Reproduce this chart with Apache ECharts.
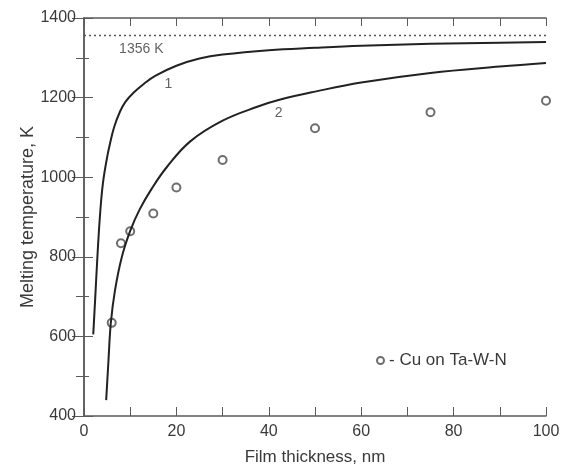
<!DOCTYPE html>
<html><head><meta charset="utf-8">
<script src="https://cdn.jsdelivr.net/npm/echarts@6/dist/echarts.min.js"></script>
<style>html,body{margin:0;padding:0;background:#fff}#c{width:562px;height:467px}</style>
</head><body><div id="c"></div>
<script>
// Curve 1 (thickness nm, melting temperature K)
const curve1X = [2.0, 2.4, 2.9, 3.5, 4.1, 5.0, 5.6, 6.5, 7.8, 9.0, 10.7, 13.0, 15.5, 20, 25, 30, 40, 50, 60, 75, 90, 100];
const curve1Y = [605, 690, 800, 910, 985, 1050, 1083, 1125, 1165, 1190, 1212, 1235, 1255, 1280, 1298, 1308, 1319, 1325, 1330, 1335, 1338, 1340];
// Curve 2
const curve2X = [4.8, 5.3, 5.8, 6.7, 8.2, 10, 12, 14.7, 17.9, 23, 30, 37.5, 42.5, 50, 60, 75, 90, 100];
const curve2Y = [440, 540, 633, 715, 800, 865, 918, 972, 1025, 1090, 1142, 1177, 1195, 1215, 1238, 1262, 1278, 1287];
// Measured points: Cu on Ta-W-N
const cuX = [6, 8, 10, 15, 20, 30, 50, 75, 100];
const cuY = [634, 834, 864, 909, 974, 1043, 1123, 1163, 1192];
// Bulk melting point
const bulkX = [0, 100];
const bulkY = [1356, 1356];
// Annotation texts and anchors (data units)
const noteText = ['1356 K', '1', '2'];
const noteX = [7.6, 17.4, 41.3];
const noteY = [1323, 1235, 1160];
const legendName = '- Cu on Ta-W-N';

const zip = (xs, ys) => xs.map((x, i) => [x, ys[i]]);
const font = 'Liberation Sans, Arial, sans-serif';
const axisCol = '#5a5a5a';
const textCol = '#3a3a3a';

const chart = echarts.init(document.getElementById('c'), null, {renderer: 'canvas'});
chart.setOption({
  animation: false,
  backgroundColor: '#fff',
  grid: {left: 84, right: 16, top: 18, bottom: 51, containLabel: false, outerBoundsMode: 'none'},
  legend: {
    data: [{name: legendName, icon: 'emptyCircle'}],
    left: 371, top: 347, itemWidth: 7, itemHeight: 7,
    textStyle: {fontFamily: font, fontSize: 17, color: textCol},
    itemStyle: {borderWidth: 1.2}
  },
  xAxis: [{
    type: 'value', position: 'bottom', min: 0, max: 100, interval: 20,
    name: 'Film thickness, nm', nameLocation: 'middle', nameGap: 33, nameMoveOverlap: false,
    nameTextStyle: {fontFamily: font, fontSize: 17, color: textCol},
    axisLine: {show: true, lineStyle: {color: axisCol, width: 1.5}},
    axisTick: {show: true, inside: true, length: 9, lineStyle: {color: axisCol, width: 1}},
    minorTick: {show: true, splitNumber: 2, length: 9, lineStyle: {color: axisCol, width: 1}},
    axisLabel: {fontFamily: font, fontSize: 16, color: textCol, margin: 8},
    splitLine: {show: false}
  }, {
    type: 'value', position: 'top', min: 0, max: 100, interval: 10,
    axisLine: {show: true, lineStyle: {color: axisCol, width: 1.5}},
    axisTick: {show: true, inside: true, length: 8, lineStyle: {color: axisCol, width: 1}},
    axisLabel: {show: false}, splitLine: {show: false}
  }],
  yAxis: [{
    type: 'value', position: 'left', min: 400, max: 1400, interval: 200,
    name: 'Melting temperature, K', nameLocation: 'middle', nameGap: 47, nameMoveOverlap: false,
    nameTextStyle: {fontFamily: font, fontSize: 18, color: textCol},
    axisLine: {show: true, lineStyle: {color: axisCol, width: 1.5}},
    axisTick: {show: true, inside: true, length: 9, lineStyle: {color: axisCol, width: 1}},
    minorTick: {show: true, splitNumber: 2, length: 5, lineStyle: {color: axisCol, width: 1}},
    axisLabel: {fontFamily: font, fontSize: 16, color: textCol, margin: 8, formatter: v => String(v)},
    splitLine: {show: false}
  }, {
    type: 'value', position: 'right', min: 400, max: 1400, interval: 200,
    axisLine: {show: true, lineStyle: {color: axisCol, width: 1.5}},
    axisTick: {show: true, inside: true, length: 12, lineStyle: {color: axisCol, width: 1}},
    minorTick: {show: true, splitNumber: 2, length: 8, lineStyle: {color: axisCol, width: 1}},
    axisLabel: {show: false}, splitLine: {show: false}
  }],
  series: [{
    type: 'line', name: 'bulk', data: zip(bulkX, bulkY), showSymbol: false, silent: true,
    lineStyle: {color: '#555', width: 1.5, type: [2, 3]}
  }, {
    type: 'line', name: 'curve1', data: zip(curve1X, curve1Y), showSymbol: false,
    smooth: 0.4,
    lineStyle: {color: '#222', width: 2}
  }, {
    type: 'line', name: 'curve2', data: zip(curve2X, curve2Y), showSymbol: false,
    smooth: 0.4,
    lineStyle: {color: '#222', width: 2}
  }, {
    type: 'scatter', name: legendName, data: zip(cuX, cuY), symbol: 'emptyCircle', symbolSize: 8,
    itemStyle: {color: '#4a4a4a', borderColor: '#4a4a4a', borderWidth: 1.3}
  }, {
    type: 'scatter', name: 'notes', symbolSize: 0, silent: true,
    data: noteText.map((t, i) => ({name: t, value: [noteX[i], noteY[i]]})),
    label: {show: true, position: 'right', distance: 0, formatter: p => p.name,
      fontFamily: font, fontSize: 14, color: textCol, align: 'left', verticalAlign: 'middle'}
  }]
});
</script></body></html>
